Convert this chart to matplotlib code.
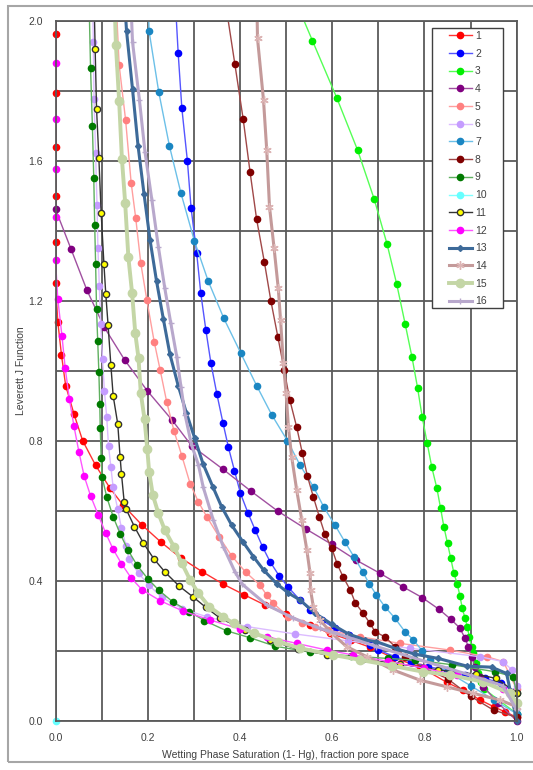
import matplotlib
matplotlib.use('Agg')
import numpy as np
import matplotlib.pyplot as plt
from matplotlib.patches import Rectangle
from matplotlib.lines import Line2D

# Leverett J function vs wetting phase saturation, 16 samples
sw1 = [0.0, 0.0, 0.0, 0.0, 0.0, 0.0, 0.0, 0.005, 0.013, 0.022, 0.04, 0.059, 0.087, 0.118, 0.146, 0.187, 0.229, 0.272, 0.318, 0.364, 0.409, 0.455, 0.5, 0.552, 0.595, 0.64, 0.682, 0.732, 0.79, 0.848, 0.884, 0.92, 0.95, 0.975, 1.0]
j1 = [2.12, 1.962, 1.793, 1.641, 1.5, 1.367, 1.25, 1.14, 1.045, 0.958, 0.877, 0.80, 0.73, 0.665, 0.617, 0.56, 0.51, 0.465, 0.426, 0.39, 0.36, 0.33, 0.305, 0.273, 0.25, 0.23, 0.21, 0.18, 0.154, 0.11, 0.087, 0.06, 0.04, 0.025, 0.01]

sw2 = [0.258, 0.266, 0.274, 0.286, 0.294, 0.306, 0.315, 0.326, 0.337, 0.35, 0.363, 0.375, 0.388, 0.401, 0.417, 0.433, 0.449, 0.465, 0.485, 0.505, 0.53, 0.552, 0.577, 0.606, 0.636, 0.682, 0.7, 0.736, 0.77, 0.808, 0.848, 0.888, 0.931, 0.967, 0.993, 1.0]
j2 = [2.1, 1.908, 1.75, 1.6, 1.465, 1.338, 1.222, 1.117, 1.022, 0.933, 0.852, 0.781, 0.715, 0.65, 0.595, 0.545, 0.497, 0.455, 0.414, 0.381, 0.345, 0.316, 0.288, 0.264, 0.245, 0.216, 0.202, 0.183, 0.168, 0.154, 0.145, 0.131, 0.121, 0.107, 0.083, 0.02]

sw3 = [0.507, 0.557, 0.61, 0.655, 0.691, 0.719, 0.74, 0.758, 0.773, 0.785, 0.795, 0.806, 0.816, 0.827, 0.835, 0.842, 0.85, 0.857, 0.864, 0.871, 0.877, 0.882, 0.888, 0.893, 0.897, 0.902, 0.906, 0.912, 0.917, 0.922, 0.93, 1.0]
j3 = [2.1, 1.944, 1.78, 1.631, 1.491, 1.362, 1.247, 1.135, 1.039, 0.952, 0.869, 0.793, 0.724, 0.664, 0.607, 0.555, 0.507, 0.464, 0.421, 0.391, 0.356, 0.321, 0.293, 0.269, 0.24, 0.212, 0.193, 0.164, 0.135, 0.111, 0.09, 0.02]

sw4 = [0.0, 0.034, 0.068, 0.106, 0.15, 0.199, 0.253, 0.295, 0.363, 0.423, 0.482, 0.543, 0.599, 0.652, 0.704, 0.753, 0.795, 0.832, 0.857, 0.876, 0.888, 0.895, 0.902, 0.91, 0.92, 0.928, 0.96, 1.0]
j4 = [1.462, 1.347, 1.231, 1.124, 1.031, 0.943, 0.859, 0.786, 0.719, 0.657, 0.599, 0.548, 0.504, 0.459, 0.421, 0.383, 0.352, 0.318, 0.29, 0.266, 0.236, 0.212, 0.183, 0.154, 0.126, 0.097, 0.05, 0.0]

sw5 = [0.13, 0.138, 0.152, 0.164, 0.174, 0.185, 0.198, 0.214, 0.227, 0.241, 0.257, 0.274, 0.292, 0.31, 0.328, 0.355, 0.382, 0.412, 0.443, 0.458, 0.472, 0.505, 0.535, 0.563, 0.591, 0.66, 0.747, 0.855, 0.935, 0.971, 1.0]
j5 = [2.1, 1.874, 1.717, 1.538, 1.436, 1.307, 1.203, 1.083, 1.002, 0.912, 0.828, 0.757, 0.677, 0.625, 0.583, 0.525, 0.471, 0.425, 0.388, 0.359, 0.336, 0.297, 0.28, 0.269, 0.259, 0.24, 0.221, 0.202, 0.183, 0.169, 0.09]

sw6 = [0.08, 0.082, 0.0835, 0.087, 0.09, 0.092, 0.095, 0.098, 0.102, 0.106, 0.111, 0.115, 0.12, 0.125, 0.135, 0.143, 0.153, 0.159, 0.18, 0.203, 0.23, 0.275, 0.328, 0.415, 0.519, 0.635, 0.769, 0.92, 0.97, 0.99, 1.0]
j6 = [2.1, 1.94, 1.776, 1.622, 1.474, 1.35, 1.243, 1.134, 1.033, 0.943, 0.869, 0.785, 0.726, 0.667, 0.604, 0.55, 0.5, 0.463, 0.421, 0.387, 0.353, 0.32, 0.297, 0.269, 0.248, 0.228, 0.207, 0.183, 0.169, 0.145, 0.1]

sw7 = [0.2, 0.203, 0.224, 0.247, 0.272, 0.301, 0.331, 0.365, 0.402, 0.436, 0.469, 0.503, 0.53, 0.56, 0.582, 0.606, 0.628, 0.647, 0.666, 0.68, 0.696, 0.714, 0.736, 0.758, 0.776, 0.795, 0.812, 0.85, 0.9, 0.95, 1.0]
j7 = [2.1, 1.97, 1.796, 1.643, 1.508, 1.372, 1.257, 1.15, 1.05, 0.958, 0.874, 0.80, 0.731, 0.667, 0.61, 0.559, 0.51, 0.469, 0.426, 0.392, 0.359, 0.326, 0.293, 0.254, 0.231, 0.2, 0.173, 0.14, 0.1, 0.06, 0.02]

sw8 = [0.363, 0.389, 0.407, 0.422, 0.436, 0.453, 0.467, 0.482, 0.496, 0.508, 0.523, 0.535, 0.546, 0.559, 0.572, 0.584, 0.599, 0.611, 0.624, 0.639, 0.65, 0.667, 0.682, 0.693, 0.714, 0.736, 0.758, 0.8, 0.85, 0.9, 0.95, 1.0]
j8 = [2.1, 1.876, 1.719, 1.567, 1.434, 1.31, 1.2, 1.098, 1.002, 0.917, 0.839, 0.766, 0.7, 0.64, 0.583, 0.534, 0.493, 0.447, 0.41, 0.374, 0.337, 0.307, 0.278, 0.254, 0.24, 0.212, 0.183, 0.15, 0.12, 0.07, 0.03, 0.01]

sw9 = [0.072, 0.076, 0.08, 0.083, 0.085, 0.087, 0.089, 0.0915, 0.094, 0.096, 0.097, 0.099, 0.101, 0.111, 0.125, 0.14, 0.157, 0.177, 0.2, 0.224, 0.254, 0.29, 0.323, 0.371, 0.422, 0.476, 0.552, 0.64, 0.72, 0.78, 0.86, 0.953, 0.992, 1.0]
j9 = [2.1, 1.865, 1.70, 1.55, 1.417, 1.305, 1.176, 1.086, 0.997, 0.904, 0.836, 0.75, 0.697, 0.64, 0.583, 0.535, 0.488, 0.444, 0.406, 0.373, 0.34, 0.312, 0.286, 0.257, 0.237, 0.213, 0.196, 0.185, 0.178, 0.173, 0.16, 0.14, 0.126, 0.08]

sw10 = [0.0]
j10 = [0.0]

sw11 = [0.083, 0.086, 0.089, 0.094, 0.099, 0.105, 0.109, 0.114, 0.12, 0.125, 0.135, 0.14, 0.143, 0.149, 0.153, 0.171, 0.19, 0.213, 0.238, 0.268, 0.299, 0.326, 0.357, 0.41, 0.465, 0.526, 0.589, 0.667, 0.747, 0.83, 0.912, 0.955, 1.0]
j11 = [2.1, 1.919, 1.749, 1.609, 1.452, 1.305, 1.22, 1.131, 1.017, 0.929, 0.848, 0.755, 0.706, 0.624, 0.605, 0.555, 0.509, 0.463, 0.424, 0.385, 0.353, 0.324, 0.293, 0.26, 0.23, 0.204, 0.188, 0.175, 0.162, 0.145, 0.133, 0.121, 0.08]

sw12 = [0.0, 0.0, 0.0, 0.0, 0.0, 0.0, 0.005, 0.014, 0.021, 0.03, 0.04, 0.051, 0.062, 0.076, 0.093, 0.109, 0.125, 0.143, 0.164, 0.188, 0.227, 0.277, 0.335, 0.40, 0.458, 0.523, 0.588, 0.645, 0.72, 0.80, 0.87, 0.93, 0.97, 1.0]
j12 = [2.1, 1.88, 1.72, 1.577, 1.44, 1.317, 1.205, 1.10, 1.008, 0.92, 0.842, 0.767, 0.70, 0.643, 0.587, 0.536, 0.49, 0.449, 0.408, 0.374, 0.343, 0.313, 0.288, 0.262, 0.24, 0.221, 0.202, 0.188, 0.17, 0.15, 0.13, 0.11, 0.09, 0.05]

sw13 = [0.148, 0.154, 0.167, 0.179, 0.192, 0.205, 0.219, 0.234, 0.248, 0.266, 0.284, 0.302, 0.32, 0.341, 0.36, 0.382, 0.406, 0.429, 0.451, 0.48, 0.505, 0.53, 0.563, 0.6, 0.635, 0.671, 0.696, 0.74, 0.78, 0.83, 0.892, 0.946, 0.978, 1.0]
j13 = [2.1, 1.972, 1.805, 1.643, 1.505, 1.374, 1.257, 1.147, 1.048, 0.958, 0.879, 0.807, 0.734, 0.669, 0.612, 0.559, 0.512, 0.469, 0.431, 0.391, 0.365, 0.345, 0.307, 0.275, 0.248, 0.231, 0.226, 0.205, 0.19, 0.178, 0.156, 0.153, 0.135, 0.0]

sw14 = [0.436, 0.438, 0.451, 0.458, 0.464, 0.474, 0.483, 0.488, 0.494, 0.5, 0.505, 0.512, 0.523, 0.534, 0.545, 0.552, 0.553, 0.559, 0.573, 0.599, 0.631, 0.675, 0.732, 0.79, 0.848, 0.906, 0.964, 1.0]
j14 = [2.1, 1.95, 1.774, 1.631, 1.469, 1.35, 1.236, 1.145, 1.022, 0.936, 0.84, 0.755, 0.659, 0.574, 0.488, 0.421, 0.374, 0.326, 0.288, 0.25, 0.212, 0.183, 0.145, 0.116, 0.097, 0.078, 0.059, 0.04]

sw15 = [0.127, 0.131, 0.138, 0.144, 0.151, 0.158, 0.166, 0.173, 0.18, 0.185, 0.193, 0.199, 0.203, 0.211, 0.223, 0.237, 0.257, 0.274, 0.292, 0.31, 0.333, 0.364, 0.386, 0.43, 0.483, 0.53, 0.602, 0.66, 0.73, 0.797, 0.855, 0.928, 0.986, 1.0]
j15 = [2.1, 1.931, 1.771, 1.606, 1.481, 1.325, 1.223, 1.107, 1.036, 0.936, 0.862, 0.776, 0.712, 0.645, 0.593, 0.545, 0.497, 0.45, 0.402, 0.364, 0.326, 0.297, 0.278, 0.25, 0.226, 0.207, 0.188, 0.174, 0.157, 0.14, 0.131, 0.111, 0.078, 0.05]

sw16 = [0.162, 0.167, 0.182, 0.194, 0.209, 0.223, 0.237, 0.25, 0.263, 0.272, 0.281, 0.295, 0.31, 0.32, 0.342, 0.364, 0.389, 0.405, 0.458, 0.516, 0.573, 0.631, 0.696, 0.8, 0.9, 0.97, 1.0]
j16 = [2.1, 1.94, 1.774, 1.626, 1.488, 1.355, 1.236, 1.136, 1.04, 0.955, 0.874, 0.788, 0.731, 0.669, 0.574, 0.497, 0.426, 0.39, 0.331, 0.293, 0.264, 0.24, 0.212, 0.17, 0.13, 0.1, 0.03]

series_sw = [sw1, sw2, sw3, sw4, sw5, sw6, sw7, sw8, sw9, sw10, sw11, sw12, sw13, sw14, sw15, sw16]
series_j = [j1, j2, j3, j4, j5, j6, j7, j8, j9, j10, j11, j12, j13, j14, j15, j16]
labels = [str(i) for i in range(1, 17)]

# line colour, marker face, marker edge, marker, marker size, line width
styles = [
    ('#ff3333', '#ff0000', '#ff0000', 'o', 4.5, 1.0),
    ('#5555ff', '#0000ff', '#0000ff', 'o', 4.5, 1.0),
    ('#55ff55', '#00ee00', '#00ee00', 'o', 4.5, 1.0),
    ('#a050a0', '#800080', '#800080', 'o', 4.5, 1.0),
    ('#ff9f9f', '#ff8080', '#ff8080', 'o', 4.5, 1.0),
    ('#dcbcff', '#c59cff', '#c59cff', 'o', 4.5, 1.0),
    ('#6cc0e8', '#1a86c2', '#1a86c2', 'o', 4.5, 1.0),
    ('#a04848', '#800000', '#800000', 'o', 4.5, 1.0),
    ('#5fb05f', '#007a00', '#007a00', 'o', 4.5, 1.0),
    ('#80ffff', '#66ffff', '#66ffff', 'o', 4.5, 1.0),
    ('#333333', '#ffff00', '#333333', 'o', 4.5, 1.0),
    ('#ff55ff', '#ff00ff', '#ff00ff', 'o', 4.5, 1.0),
    ('#3d6a99', '#3d6a99', '#3d6a99', 'D', 3.0, 2.2),
    ('#c49a9a', '#dcb4b4', '#dcb4b4', (6, 2, 0), 6.0, 2.2),
    ('#c4d6a6', '#c4d6a6', '#c4d6a6', 'o', 6.0, 2.8),
    ('#b8a8cc', '#b8a8cc', '#b8a8cc', '+', 5.0, 2.2),
]

plt.rcParams['font.family'] = ['Liberation Sans', 'DejaVu Sans']

fig = plt.figure(figsize=(5.33, 7.70), dpi=100)
ax = fig.add_axes([55.5 / 533, 1 - 720.7 / 770, (516.7 - 55.5) / 533, (720.7 - 21) / 770])

handles = []
for sw, jv, lab, (lc, mfc, mec, mk, ms, lw) in zip(series_sw, series_j, labels, styles):
    sw = np.asarray(sw)
    jv = np.asarray(jv)
    # line clipped to the plot area, markers drawn whole (like Excel)
    ax.plot(sw, jv, color=lc, lw=lw)
    inside = jv <= 2.0
    ax.plot(sw[inside], jv[inside], ls='none', marker=mk, ms=ms, mfc=mfc,
            mec=mec, mew=1.0, clip_on=False)
    handles.append(Line2D([], [], color=lc, lw=lw, marker=mk, ms=ms, mfc=mfc,
                          mec=mec, mew=1.0, label=lab))

ax.set_xlim(0, 1)
ax.set_ylim(0, 2)
ax.set_xticks(np.arange(0, 1.01, 0.2))
ax.set_xticks(np.arange(0, 1.01, 0.1), minor=True)
ax.set_yticks(np.arange(0, 2.01, 0.4))
ax.set_yticks(np.arange(0, 2.01, 0.2), minor=True)
ax.xaxis.set_major_formatter('{x:.1f}')
ax.yaxis.set_major_formatter('{x:.1f}')
ax.grid(which='both', color='#5a5a5a', lw=1.3)
ax.set_axisbelow(True)
ax.tick_params(which='both', length=0, labelsize=7.5, labelcolor='#404040')
ax.tick_params(axis='x', pad=9)
ax.tick_params(axis='y', pad=9)
for s in ax.spines.values():
    s.set_color('#5a5a5a')
    s.set_linewidth(1.3)

fig.text(286 / 533, 1 - 755 / 770, 'Wetting Phase Saturation (1- Hg), fraction pore space',
         ha='center', va='center', fontsize=7.5, color='#404040')
fig.text(21 / 533, 1 - 371 / 770, 'Leverett J Function', rotation=90,
         ha='center', va='center', fontsize=7.5, color='#404040')

# legend box drawn by hand to match the original spacing
ax.add_patch(Rectangle((0.8164, 0.5898), 0.9703 - 0.8164, 0.990 - 0.5898,
                       transform=ax.transAxes, facecolor='white',
                       edgecolor='#404040', lw=1.0, zorder=4))
leg = ax.legend(handles=handles, loc='upper left', bbox_to_anchor=(0.853, 0.986),
                frameon=False, fontsize=7.5, labelspacing=0.74, handlelength=2.2,
                handletextpad=0.3, borderpad=0.0, borderaxespad=0.0)
leg.set_zorder(5)
for t in leg.get_texts():
    t.set_color('#404040')

# outer chart border
fig.patches.append(Rectangle((8 / 533, 1 - 762 / 770), 540 / 533, 756 / 770,
                             transform=fig.transFigure, fill=False,
                             edgecolor='#a6a6a6', lw=1.5))

fig.savefig('out.png', dpi=100)
